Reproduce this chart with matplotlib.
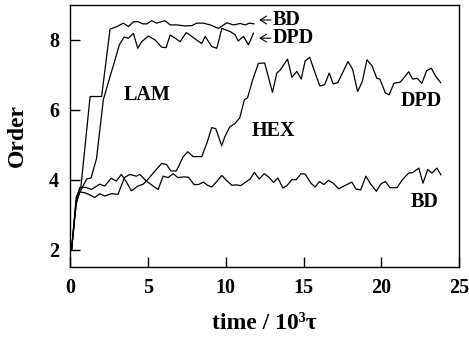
import matplotlib
matplotlib.use('Agg')
import matplotlib.pyplot as plt

plt.rcParams['font.family'] = ['Liberation Serif', 'DejaVu Serif']
plt.rcParams['font.weight'] = 'bold'

# LAM, BD
lam_bd_t = [0.1, 0.4, 0.7, 1.29, 2.03, 2.57, 3.0, 3.43, 3.75, 4.07, 4.39, 4.67, 4.93, 5.25,
            5.57, 6.1, 6.43, 6.86, 7.39, 7.82, 8.14, 8.57, 9.0, 9.53, 10.07, 10.5, 10.93,
            11.25, 11.52, 11.82]
lam_bd_y = [2.0, 3.5, 3.8, 6.38, 6.38, 8.31, 8.38, 8.48, 8.38, 8.52, 8.52, 8.46, 8.46, 8.55,
            8.48, 8.55, 8.43, 8.43, 8.4, 8.41, 8.48, 8.48, 8.43, 8.33, 8.49, 8.43, 8.47,
            8.43, 8.48, 8.46]

# LAM, DPD
lam_dpd_t = [0.1, 0.4, 0.7, 1.07, 1.35, 1.7, 2.14, 2.57, 2.89, 3.17, 3.47, 3.75, 4.07, 4.35,
             4.6, 5.03, 5.46, 5.89, 6.17, 6.43, 6.75, 7.07, 7.46, 7.82, 8.18, 8.46, 8.68,
             9.1, 9.43, 9.75, 10.28, 10.6, 10.8, 11.14, 11.46, 11.78]
lam_dpd_y = [2.0, 3.4, 3.7, 4.02, 4.05, 4.6, 6.29, 6.95, 7.43, 7.86, 8.08, 8.05, 8.19, 7.76,
             7.95, 8.11, 8.0, 7.79, 7.78, 8.14, 8.05, 7.95, 8.21, 8.1, 7.98, 7.9, 8.1,
             7.81, 7.76, 8.33, 8.24, 8.15, 7.97, 8.1, 7.86, 8.19]

# HEX, DPD
hex_dpd_t = [0.1, 0.4, 0.62, 1.0, 1.37, 1.9, 2.23, 2.65, 2.97, 3.3,
             3.6, 3.94, 4.37, 4.69, 4.9, 5.87, 6.19, 6.47, 6.83, 7.26,
             7.56, 7.9, 8.46, 8.8, 9.1, 9.36, 9.74, 9.94, 10.26, 10.58,
             10.9, 11.2, 11.4, 11.73, 12.1, 12.5, 13.0, 13.28, 13.5, 13.97,
             14.25, 14.57, 14.85, 15.1, 15.4, 15.7, 16.05, 16.35, 16.65, 16.9,
             17.2, 17.85, 18.15, 18.47, 18.77, 19.07, 19.4, 19.7, 19.9, 20.25,
             20.5, 20.8, 21.2, 21.4, 21.75, 22.0, 22.3, 22.6, 22.9, 23.2,
             23.5, 23.8]
hex_dpd_y = [2.0, 3.4, 3.77, 3.78, 3.72, 3.87, 3.82, 4.04, 3.96, 4.15,
             3.95, 3.68, 3.82, 3.87, 3.96, 4.46, 4.44, 4.25, 4.25, 4.65,
             4.8, 4.66, 4.66, 5.06, 5.49, 5.46, 4.97, 5.23, 5.51, 5.6,
             5.77, 6.29, 6.34, 6.86, 7.33, 7.34, 6.5, 7.05, 7.14, 7.45,
             6.93, 7.1, 6.88, 7.4, 7.5, 7.1, 6.68, 6.72, 7.05, 6.74,
             6.78, 7.38, 7.16, 6.52, 6.81, 7.43, 7.26, 6.9, 6.88, 6.48,
             6.43, 6.76, 6.79, 6.89, 7.09, 6.88, 6.9, 6.76, 7.12, 7.19,
             6.95, 6.78]

# HEX, BD
hex_bd_t = [0.1, 0.4, 0.62, 1.0, 1.6, 1.9, 2.23, 2.65, 3.08, 3.5,
            3.83, 4.26, 4.48, 4.9, 5.33, 5.66, 5.98, 6.3, 6.62, 6.94,
            7.33, 7.6, 7.97, 8.25, 8.57, 8.83, 9.1, 9.43, 9.75, 10.07,
            10.39, 10.7, 10.96, 11.28, 11.57, 11.84, 12.15, 12.47, 12.75, 13.07,
            13.35, 13.67, 13.93, 14.25, 14.53, 14.83, 15.1, 15.47, 15.75, 16.02,
            16.3, 16.6, 16.9, 17.25, 17.56, 18.1, 18.37, 18.67, 19.0, 19.3,
            19.67, 19.97, 20.25, 20.55, 21.0, 21.35, 21.75, 22.0, 22.4, 22.67,
            22.97, 23.24, 23.56, 23.82]
hex_bd_y = [2.0, 3.3, 3.65, 3.62, 3.49, 3.6, 3.53, 3.6, 3.58, 4.06,
            4.15, 4.1, 4.15, 3.96, 3.82, 3.72, 4.1, 4.06, 4.17, 4.06,
            4.08, 4.07, 3.86, 3.86, 3.93, 3.84, 3.79, 3.95, 4.12, 3.97,
            3.84, 3.85, 3.83, 3.93, 4.02, 4.21, 4.02, 4.17, 4.08, 3.92,
            4.05, 3.76, 3.83, 4.0, 4.0, 4.17, 4.16, 3.9, 3.79, 3.95,
            3.86, 3.98, 3.9, 3.74, 3.81, 3.93, 3.73, 3.71, 4.1, 3.88,
            3.67, 3.88, 3.95, 3.77, 3.77, 4.0, 4.19, 4.2, 4.33, 3.9,
            4.29, 4.19, 4.33, 4.14]

x_ticks = [0, 5, 10, 15, 20, 25]
y_ticks = [2, 4, 6, 8]

fig = plt.figure(figsize=(4.69, 3.37), dpi=100)
ax = fig.add_axes([0.1493, 0.2077, 0.9793 - 0.1493, 0.9852 - 0.2077])

for t, y in [(lam_bd_t, lam_bd_y), (lam_dpd_t, lam_dpd_y),
             (hex_dpd_t, hex_dpd_y), (hex_bd_t, hex_bd_y)]:
    ax.plot(t, y, color='black', lw=0.9)

ax.set_xlim(0, 25)
ax.set_ylim(1.5, 9)
ax.set_xticks(x_ticks)
ax.set_yticks(y_ticks)
ax.tick_params(direction='in', length=7, width=1, labelsize=14.5, pad=8,
               top=False, right=False)
for s in ax.spines.values():
    s.set_linewidth(1)

ax.set_xlabel('time / 10³τ', fontsize=17, fontweight='bold')
ax.set_ylabel('Order', fontsize=17, fontweight='bold')
ax.xaxis.set_label_coords(0.5, -0.175)
ax.yaxis.set_label_coords(-0.108, 0.5)

fs = 14.5
ax.text(4.93, 6.43, 'LAM', fontsize=fs, fontweight='bold', ha='center', va='center')
ax.text(13.05, 5.39, 'HEX', fontsize=fs, fontweight='bold', ha='center', va='center')
ax.text(22.55, 6.24, 'DPD', fontsize=fs, fontweight='bold', ha='center', va='center')
ax.text(22.75, 3.36, 'BD', fontsize=fs, fontweight='bold', ha='center', va='center')

arrow = dict(arrowstyle='->,head_length=0.45,head_width=0.28', lw=0.8, color='black',
             shrinkA=0, shrinkB=0)
ax.text(13.0, 8.57, 'BD', fontsize=fs, fontweight='bold', ha='left', va='center')
ax.text(13.0, 8.05, 'DPD', fontsize=fs, fontweight='bold', ha='left', va='center')
ax.annotate('', xy=(12.15, 8.57), xytext=(12.9, 8.57), arrowprops=arrow)
ax.annotate('', xy=(12.15, 8.05), xytext=(12.9, 8.05), arrowprops=arrow)

fig.savefig('out.png', dpi=100)
